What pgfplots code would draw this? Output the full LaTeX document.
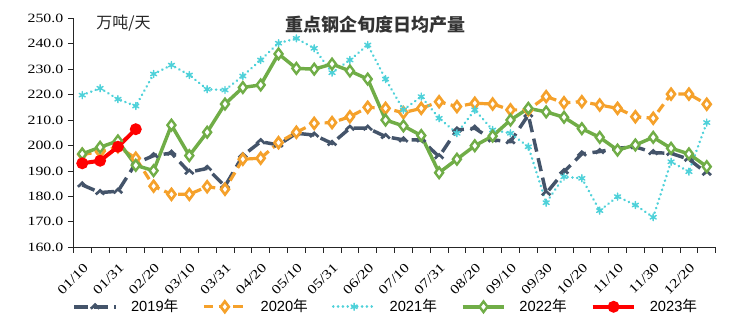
\documentclass[border=0pt]{standalone}
\usepackage{pgfplots}
\pgfplotsset{compat=1.18}
\usepackage{fontspec}
\setmainfont{Liberation Serif}
\newfontfamily\tickfont[FakeStretch=1.25]{Liberation Serif}
\newfontfamily\legfont{Liberation Sans}
\newfontfamily\cjk{Noto Sans CJK SC}
\definecolor{c19}{HTML}{44546A}
\definecolor{c20}{HTML}{F5A12B}
\definecolor{c21}{HTML}{4ED1D9}
\definecolor{c22}{HTML}{70AD47}
\definecolor{c23}{HTML}{FF0000}
\pgfdeclareplotmark{chevron}{%
  \pgfpathmoveto{\pgfpoint{-\pgfplotmarksize}{-0.45\pgfplotmarksize}}%
  \pgfpathlineto{\pgfpoint{0pt}{0.5\pgfplotmarksize}}%
  \pgfpathlineto{\pgfpoint{\pgfplotmarksize}{-0.45\pgfplotmarksize}}%
  \pgfusepathqstroke}
\pgfplotstableread{
i y19 y20 y21 y22
0 184.5 196.5 219.8 196.7
1 181.5 197.5 222.5 199.3
2 182.0 199.5 218.2 201.8
3 193.0 195.0 215.5 192.2
4 196.0 184.0 228.1 190.1
5 197.0 180.8 231.6 208.0
6 189.5 180.8 227.7 196.0
7 191.0 183.8 222.1 205.2
8 184.0 182.8 221.8 216.3
9 196.0 194.6 227.3 222.8
10 201.5 195.0 233.6 223.8
11 200.2 201.1 240.2 236.0
12 204.8 205.2 242.1 230.3
13 204.1 208.7 238.2 230.0
14 200.8 209.0 228.6 232.0
15 206.8 211.3 233.6 229.3
16 206.8 215.0 239.5 226.1
17 203.5 214.6 226.1 210.0
18 202.2 212.9 214.0 207.7
19 202.2 214.6 219.2 203.9
20 195.6 217.2 210.7 189.3
21 206.1 215.3 204.8 194.6
22 206.8 216.6 214.0 199.9
23 202.2 216.3 206.1 203.7
24 201.5 214.0 204.8 210.0
25 212.0 214.0 199.5 214.6
26 181.2 219.2 177.5 213.2
27 189.7 216.8 187.7 211.1
28 196.7 217.2 187.1 206.6
29 197.6 215.9 174.4 203.2
30 198.9 214.6 179.9 198.2
31 199.5 211.3 176.6 200.2
32 197.2 210.7 171.8 203.2
33 196.9 220.2 193.6 198.9
34 194.6 220.2 189.7 196.7
35 189.1 216.2 209.0 191.7
}\datatab
\pgfplotstableread{
i y23
0 193.0
1 194.0
2 199.5
3 206.4
}\datatabb
\begin{document}
\begin{tikzpicture}
\begin{axis}[
  scale only axis,
  width=481.8pt, height=171.75pt,
  at={(0,0)}, anchor=south west,
  xmin=-0.5, xmax=35.5,
  ymin=160, ymax=250,
  axis lines*=left,
  axis line style={black!85, line width=0.6pt},
  clip=false,
  xtick={0,2,...,34},
  xticklabels={01/10,01/31,02/20,03/10,03/31,04/20,05/10,05/31,06/20,07/10,07/31,08/20,09/10,09/30,10/20,11/10,11/30,12/20},
  minor xtick={-0.5,0.5,...,35.5},
  major x tick style={draw=none},
  minor x tick style={black!85, line width=0.6pt},
  minor tick length=4pt,
  ytick={160,170,...,250},
  major y tick style={black!85, line width=0.6pt},
  major tick length=4pt,
  tick align=outside,
  /pgf/number format/assume math mode=true,
  yticklabel style={font=\tickfont\fontsize{9.5}{10}\selectfont, /pgf/number format/.cd, fixed, fixed zerofill, precision=1},
  xticklabel style={font=\tickfont\fontsize{9.8}{10}\selectfont, rotate=45, anchor=east, inner sep=1pt, xshift=-4pt, yshift=-9pt},
  legend style={draw=none, fill=none, legend columns=5, at={(0.487,-0.26)}, anchor=center,
    font=\legfont\fontsize{11}{12}\selectfont,
    /tikz/every even column/.append style={column sep=16pt},
    /tikz/every odd column/.append style={column sep=8pt}},
  legend image code/.code={\draw[mark repeat=2,mark phase=2] plot coordinates {(0cm,0cm) (0.55cm,0cm) (1.1cm,0cm)};},
]
\addplot[c19, line width=2.6pt, dash pattern=on 10pt off 5pt, mark=chevron, mark size=3.2pt,
  mark options={solid, line width=2pt, c19}] table[x=i, y=y19] {\datatab};
\addlegendentry{2019{\cjk 年}}
\addplot[c20, line width=2.4pt, dash pattern=on 7pt off 4pt, mark=diamond*, mark size=4pt,
  mark options={solid, fill=white, draw=c20, line width=2pt}] table[x=i, y=y20] {\datatab};
\addlegendentry{2020{\cjk 年}}
\addplot[c21, line width=2pt, line cap=round, dash pattern=on 0.1pt off 3.5pt, mark=asterisk, mark size=2.6pt,
  mark options={solid, line width=1.1pt, c21}] table[x=i, y=y21] {\datatab};
\addlegendentry{2021{\cjk 年}}
\addplot[c22, line width=2.6pt, mark=diamond*, mark size=4pt,
  mark options={solid, fill=white, draw=c22, line width=1.8pt}] table[x=i, y=y22] {\datatab};
\addlegendentry{2022{\cjk 年}}
\addplot[c23, line width=3pt, mark=*, mark size=2.9pt,
  mark options={solid, fill=c23, draw=c23}] table[x=i, y=y23] {\datatabb};
\addlegendentry{2023{\cjk 年}}
\node[font=\cjk\bfseries\fontsize{13.5}{14}\selectfont, text=black!80] at (rel axis cs:0.471,0.971) {重点钢企旬度日均产量};
\node[font=\cjk\fontsize{12}{13}\selectfont, text=black!85] at (rel axis cs:0.078,0.98) {万吨/天};
\end{axis}
\pgfresetboundingbox
\path[use as bounding box] (-55pt,-58.3pt) rectangle (509.8pt,185.45pt);
\end{tikzpicture}
\end{document}
